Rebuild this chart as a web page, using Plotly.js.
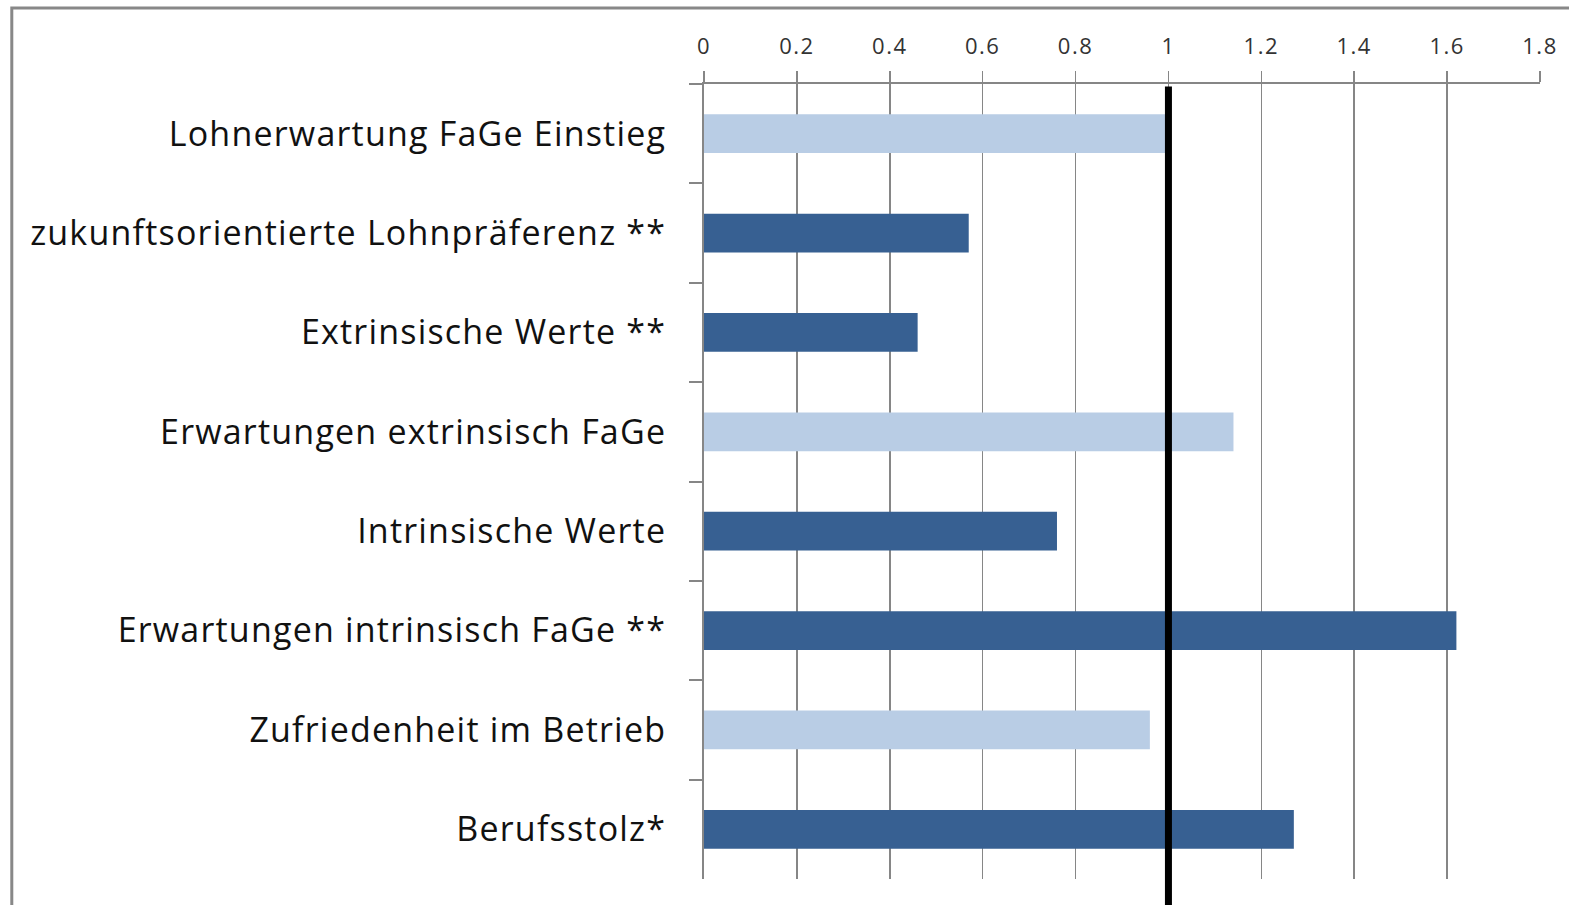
<!DOCTYPE html>
<html>
<head>
<meta charset="utf-8">
<script src="https://cdn.plot.ly/plotly-3.0.1.min.js"></script>
<style>
html,body{margin:0;padding:0;background:#fff;}
#chart{width:1569px;height:905px;}
#chart .ytick text{letter-spacing:1.2px;}
#chart .xtick text{letter-spacing:1.5px;}
</style>
</head>
<body>
<div id="chart"></div>
<script>
const categories = [
  "Lohnerwartung FaGe Einstieg",
  "zukunftsorientierte Lohnpräferenz **",
  "Extrinsische Werte **",
  "Erwartungen extrinsisch FaGe",
  "Intrinsische Werte",
  "Erwartungen intrinsisch FaGe **",
  "Zufriedenheit im Betrieb",
  "Berufsstolz*"
];
const values = [0.995, 0.57, 0.46, 1.14, 0.76, 1.62, 0.96, 1.27];
const significant = [false, true, true, false, true, true, false, true];
const xTickValues = [0, 0.2, 0.4, 0.6, 0.8, 1, 1.2, 1.4, 1.6, 1.8];
const referenceValue = 1;

const LIGHT = "#B9CDE5", DARK = "#376092";
const barColors = significant.map(s => s ? DARK : LIGHT);

const trace = {
  type: "bar",
  orientation: "h",
  x: values,
  y: categories,
  marker: {color: barColors, line: {width: 0}},
  hoverinfo: "x+y"
};

const layout = {
  width: 1569, height: 905,
  margin: {l: 704, r: 29, t: 84, b: 26, pad: 0},
  paper_bgcolor: "#fff", plot_bgcolor: "#fff",
  showlegend: false,
  bargap: 0.61,
  font: {family: "'Open Sans', sans-serif", color: "#000"},
  xaxis: {
    side: "top",
    range: [0, 1.8],
    tickvals: xTickValues,
    ticktext: xTickValues.map(v => String(v)),
    showgrid: true, gridcolor: "#868686", gridwidth: 1.5,
    showline: true, linecolor: "#868686", linewidth: 2,
    ticks: "outside", ticklen: 11, tickcolor: "#868686", tickwidth: 1.5,
    tickfont: {size: 22, color: "#333", family: "'Open Sans', sans-serif"},
    ticklabelstandoff: 8,
    zeroline: false, fixedrange: true
  },
  yaxis: {
    type: "category",
    autorange: "reversed",
    showgrid: false,
    showline: true, linecolor: "#868686", linewidth: 2,
    ticks: "outside", tickson: "boundaries", ticklen: 13, tickcolor: "#868686", tickwidth: 2,
    tickfont: {size: 34, color: "#111", family: "'Open Sans', sans-serif"},
    ticklabelstandoff: 29,
    zeroline: false, fixedrange: true
  },
  shapes: [
    {type: "line", xref: "x", yref: "paper", x0: referenceValue, x1: referenceValue,
     y0: 0.997, y1: -0.1, line: {color: "#000", width: 7}},
    {type: "rect", xref: "paper", yref: "paper", x0: -0.828, x1: 1.5, y0: -0.5, y1: 1.0956,
     line: {color: "#888", width: 3}, fillcolor: "rgba(0,0,0,0)", layer: "above"}
  ]
};

Plotly.newPlot("chart", [trace], layout, {displayModeBar: false, staticPlot: true});
</script>
</body>
</html>
